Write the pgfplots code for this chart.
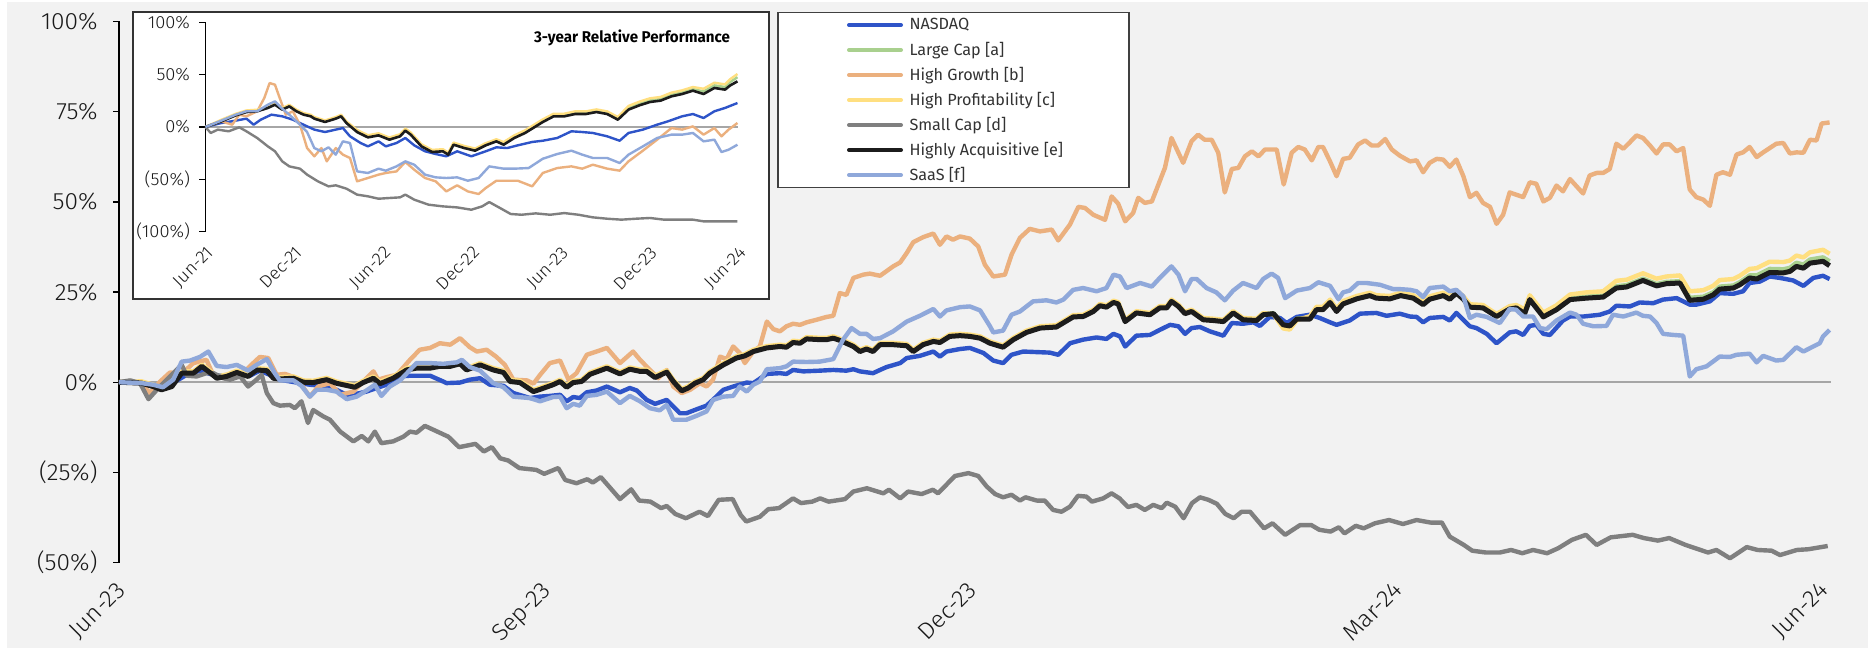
\documentclass[border=0pt]{standalone}
\usepackage{fontspec}
\setmainfont{Fira Sans}
\newfontfamily\lightfont{Fira Sans Light}[FakeStretch=1.04]
\newfontfamily\condfont{Fira Sans}[FakeStretch=0.97]
\usepackage{pgfplots}
\pgfplotsset{compat=1.18}
\usepackage{pgfplotstable}

\definecolor{bg}{HTML}{F2F2F2}
\definecolor{cNas}{HTML}{2E54C8}
\definecolor{cLarge}{HTML}{A9D08E}
\definecolor{cGrowth}{HTML}{EBB07E}
\definecolor{cProf}{HTML}{FFDF80}
\definecolor{cSmall}{HTML}{7F7F7F}
\definecolor{cAcq}{HTML}{1C1C1C}
\definecolor{cSaas}{HTML}{8FA8DA}
\definecolor{zline}{HTML}{A6A6A6}

% ---------------- main chart data (x = days since Jun-23, y = %) ----------------
\pgfplotstableread{
d acq large prof
0 0 0 0
4.8 -0.25 -0.05 0.25
7.3 -1.2 -1.0 -0.7
9.1 -2.1 -1.9 -1.6
11.3 -1.2 -1.0 -0.7
13.4 2.5 2.7 3.0
15.9 2.5 2.7 3.0
17.7 4.4 4.6 4.9
19.4 2.7 2.9 3.2
20.9 1.1 1.3 1.6
23.0 1.6 1.8 2.1
25.2 2.7 2.9 3.2
27.6 1.6 1.8 2.1
29.4 3.4 3.6 3.9
31.6 3.2 3.4 3.7
33.0 1.1 1.3 1.6
34.4 0.9 1.1 1.4
37.3 1.1 1.3 1.6
39.4 0.0 0.2 0.5
41.5 -0.1 0.1 0.4
44.4 0.7 0.9 1.2
46.5 -0.3 -0.1 0.2
50.4 -1.4 -1.2 -0.9
52.2 -0.1 0.1 0.4
54.4 1.1 1.3 1.6
55.8 -0.4 -0.2 0.1
58.6 1.1 1.3 1.6
61.5 3.4 3.6 3.9
63.6 3.9 4.1 4.4
66.5 3.9 4.1 4.4
68.6 4.4 4.6 4.9
70.8 4.4 4.6 4.9
72.9 5.1 5.3 5.6
74.3 3.4 3.6 3.9
77.2 4.8 5.0 5.3
80.0 3.4 3.6 3.9
82.2 2.7 2.9 3.2
83.6 0.2 0.4 0.7
85.7 -0.1 0.1 0.4
88.6 -2.6 -2.4 -2.1
90.0 -2.0 -1.8 -1.5
92.8 -0.7 -0.5 -0.2
94.3 0.2 0.4 0.7
95.7 -1.4 -1.2 -0.9
97.1 -0.1 0.1 0.4
98.9 0.2 0.4 0.7
100.7 2.2 2.4 2.7
104.3 3.9 4.1 4.4
107.1 2.3 2.5 2.8
109.2 3.6 3.8 4.1
111.4 3.0 3.2 3.5
112.8 3.0 3.2 3.5
114.6 1.3 1.5 1.8
117.1 2.8 3.0 3.3
118.5 0.2 0.4 0.7
120.3 -2.4 -2.2 -1.9
121.7 -1.6 -1.4 -1.1
123.1 -0.3 -0.1 0.2
124.9 0.7 0.9 1.2
126.3 2.5 2.7 3.0
129.2 4.8 5.0 5.3
132.0 6.7 6.9 7.2
133.8 7.3 7.5 7.8
135.6 8.5 8.7 9.0
138.5 9.5 9.7 10.0
141.3 9.9 10.1 10.4
142.7 9.7 9.9 10.2
144.1 11.0 11.2 11.5
145.6 10.8 11.0 11.3
147.0 12.0 12.2 12.5
149.8 11.8 12.0 12.3
151.3 11.8 12.0 12.3
152.7 12.2 12.4 12.7
154.1 11.6 11.8 12.1
157.0 9.9 10.1 10.4
158.4 8.5 8.7 9.0
159.8 9.2 9.4 9.7
161.2 8.5 8.7 9.0
162.7 10.4 10.6 10.9
165.5 10.4 10.6 10.9
168.4 10.1 10.3 10.6
169.8 8.5 8.7 9.0
171.9 10.4 10.6 10.9
174.1 11.3 11.5 11.8
175.5 11.0 11.2 11.5
177.6 12.7 12.9 13.2
179.8 12.9 13.1 13.4
181.9 12.7 12.9 13.2
184.1 12.2 12.4 12.7
186.2 10.8 11.0 11.3
189.0 9.7 9.9 10.2
191.2 11.8 12.0 12.3
194.0 13.8 14.0 14.3
196.9 15.0 15.2 15.5
200.4 15.3 15.5 15.8
204.0 18.1 18.3 18.6
206.1 18.2 18.4 18.7
208.3 19.6 19.8 20.1
209.7 21.2 21.4 21.7
211.1 20.8 21.0 21.3
212.6 22.1 22.3 22.6
213.6 21.7 21.9 22.2
215.1 16.8 17.0 17.3
217.5 19.2 19.4 19.7
220.4 18.7 18.9 19.2
222.5 20.6 20.8 21.1
224.0 20.6 20.8 21.1
225.0 22.4 22.6 22.9
226.5 21.0 21.2 21.5
227.9 19.0 19.2 19.5
229.3 19.6 19.8 20.1
231.8 17.3 17.5 17.8
233.9 17.1 17.3 17.6
236.1 16.8 17.0 17.3
238.2 19.2 19.4 19.7
240.3 17.3 17.5 17.8
243.2 17.1 17.3 17.6
244.6 18.7 18.9 19.2
246.8 19.0 19.1 18.8
248.9 15.9 15.9 14.9
250.3 15.6 15.6 14.6
251.8 17.5 17.6 17.2
254.6 17.5 17.8 18.3
256.0 20.1 20.4 20.9
257.4 20.1 20.4 20.9
258.9 22.1 22.4 22.9
260.3 19.6 19.9 20.4
261.7 21.7 22.0 22.5
264.6 23.1 23.4 23.9
267.4 24.0 24.3 24.8
268.8 23.3 23.6 24.1
271.7 23.1 23.4 23.9
274.0 24.0 24.3 24.8
276.7 23.3 23.6 24.1
278.8 21.5 21.8 22.3
280.2 23.0 23.3 23.8
283.1 24.0 24.3 24.8
284.5 23.0 23.3 23.8
285.9 24.7 25.0 25.5
287.4 23.0 23.3 23.8
288.8 20.8 21.1 21.6
291.6 20.6 20.9 21.4
294.5 18.2 18.5 18.9
297.3 20.3 20.6 21.1
298.7 20.6 20.9 21.4
300.5 19.0 19.4 20.2
301.6 22.9 23.3 24.1
304.5 18.1 18.5 19.3
307.3 20.1 20.5 21.3
310.2 22.9 23.3 24.3
313.7 23.3 23.7 24.9
317.3 23.6 24.0 25.2
320.1 26.1 26.6 28.1
322.3 26.4 26.9 28.4
325.8 28.2 28.7 30.2
328.7 26.7 27.2 28.7
330.8 27.3 27.8 29.3
333.7 27.5 28.0 29.6
335.8 22.7 23.4 25.2
338.7 23.0 23.7 25.5
340.8 24.2 24.9 26.7
342.2 25.8 26.5 28.3
345.1 26.1 26.8 28.6
346.5 27.0 27.7 29.5
348.6 28.9 29.6 31.4
350.1 28.6 29.6 31.6
352.9 30.4 31.4 33.4
355.8 30.3 31.3 33.3
357.2 30.7 31.7 33.7
358.6 32.1 33.1 35.1
360.1 31.6 32.6 34.6
361.5 33.0 34.0 36.0
364.3 33.5 34.6 36.7
365.7 32.3 33.5 35.6
}\tblAcq

\pgfplotstableread{
d v
0 0
4.8 -0.25
7.3 -1.2
9.4 -1.4
12.3 0.4
14.4 2.0
17.3 3.2
19.4 2.3
21.6 1.8
25.2 2.3
28.0 1.8
30.1 3.2
32.3 2.0
34.4 0.7
38.0 -0.1
40.8 -0.7
43.7 -1.0
46.5 -2.1
48.7 -3.5
50.8 -3.2
52.9 -2.6
55.1 -1.6
57.2 -0.7
60.1 1.6
62.2 1.8
66.5 1.8
69.3 0.2
70.0 -0.25
72.9 -0.1
75.0 0.7
77.2 1.1
79.3 -0.7
82.2 -1.0
84.3 -3.0
87.9 -4.4
90.0 -4.0
92.1 -3.8
94.3 -3.5
95.7 -5.3
97.1 -4.1
98.5 -4.4
100.0 -2.8
102.1 -2.3
104.3 -1.2
107.1 -2.8
109.2 -1.6
110.7 -2.3
112.8 -4.9
114.6 -6.0
117.1 -4.9
119.9 -8.6
121.3 -8.6
123.5 -7.5
125.6 -6.5
127.7 -4.0
129.2 -2.1
131.3 -1.2
134.2 -0.1
135.6 -0.25
138.5 2.3
141.3 2.5
142.7 2.3
144.1 3.4
146.3 3.0
149.8 3.2
152.7 3.4
155.5 3.2
157.0 3.6
158.4 3.0
161.2 2.5
162.7 3.4
164.1 4.2
167.0 5.3
168.4 6.7
171.2 7.3
174.1 8.5
175.5 7.1
176.9 8.5
179.8 9.2
181.9 9.5
184.8 8.1
186.9 6.0
189.0 5.3
190.8 7.6
193.3 8.5
199.0 8.2
200.8 7.6
203.3 10.8
206.1 11.8
209.0 12.4
211.1 12.0
212.6 13.4
214.0 12.7
215.1 9.9
217.5 12.9
220.4 13.1
222.5 14.5
224.7 15.9
226.5 15.5
227.9 13.4
229.3 15.0
231.1 15.3
233.2 14.1
236.1 12.9
237.9 16.4
240.3 16.2
242.5 16.6
243.9 15.6
246.0 18.1
248.2 17.8
249.6 16.4
251.8 18.1
254.6 18.7
256.7 17.8
258.9 16.6
260.3 15.9
263.1 17.1
265.3 19.0
268.8 19.2
271.0 18.4
273.8 19.0
276.0 18.2
277.4 18.1
278.8 16.6
280.2 17.8
283.1 18.1
284.5 17.1
285.9 19.2
288.8 15.5
290.2 15.0
292.4 13.4
294.5 10.8
297.3 13.8
298.7 14.1
300.2 13.1
301.6 15.6
303.0 15.9
304.5 13.4
305.9 13.1
308.7 17.1
310.2 18.2
313.0 18.2
316.6 18.7
318.7 19.6
320.1 21.2
323.0 21.0
325.1 22.1
328.0 21.9
330.1 22.9
333.0 23.3
335.8 21.5
337.2 21.5
340.1 22.4
342.2 24.7
345.1 24.5
347.2 25.2
348.6 27.5
350.8 27.9
352.9 29.3
355.1 28.9
357.9 28.2
360.1 26.7
362.2 28.9
364.3 29.5
365.7 28.6
}\tblNas

\pgfplotstableread{
d v
0 0
4.8 -0.25
6.6 -3.0
8.8 0.2
10.9 2.7
13.4 2.3
15.9 5.3
18.7 6.2
20.2 1.8
23.0 1.1
25.9 1.8
28.7 5.3
30.1 7.0
31.9 6.7
33.7 2.05
35.5 2.3
38.0 1.1
40.8 -4.0
42.6 -1.2
45.1 -0.25
47.3 -3.5
50.1 -2.6
52.2 0.2
54.4 3.0
55.4 0.7
57.2 1.4
59.4 2.05
62.2 6.2
64.3 9.0
66.5 9.5
68.6 10.8
70.8 10.4
72.9 12.2
75.0 9.7
76.5 8.5
78.6 9.0
80.7 7.0
82.5 4.8
84.3 0.7
87.2 0.5
88.6 -0.4
90.0 2.0
92.1 5.3
94.3 6.0
96.1 0.7
97.8 2.5
100.0 7.6
102.1 8.5
104.3 9.5
107.1 5.3
109.9 8.5
111.4 6.2
113.5 3.4
115.3 1.1
117.1 3.4
118.5 -1.2
120.3 -3.0
122.1 -2.1
124.2 -0.25
125.6 -1.2
127.0 0.7
128.5 7.1
129.9 6.4
131.3 9.9
132.7 8.1
133.8 5.3
135.6 8.5
137.0 9.9
138.5 16.8
139.9 14.7
141.3 14.1
142.7 15.5
144.1 16.2
145.6 15.9
147.0 16.6
149.1 17.3
151.3 18.1
152.7 18.4
154.1 24.7
155.5 24.2
157.0 28.9
159.1 29.8
160.5 30.1
162.7 29.5
165.5 32.1
167.0 33.2
168.4 35.8
169.8 38.8
171.9 40.2
174.1 41.2
175.5 38.1
176.9 40.4
178.3 39.5
179.8 40.4
181.9 39.8
183.7 37.6
185.1 32.6
186.9 29.3
189.4 29.8
190.8 35.3
192.6 40.0
194.7 42.5
196.9 41.8
199.4 42.3
200.8 39.3
203.3 43.7
205.1 48.6
206.5 48.3
208.3 46.4
210.8 45.0
212.2 51.5
213.6 49.5
215.1 44.6
216.8 46.9
217.9 51.1
219.3 49.7
220.8 50.1
223.6 59.4
225.0 67.7
227.5 60.8
229.3 66.8
230.7 68.6
232.1 67.2
233.6 67.2
235.0 63.6
236.4 52.6
237.9 59.1
239.3 59.4
240.7 62.6
242.2 64.0
243.6 62.6
245.0 64.5
247.5 64.5
249.0 54.8
250.7 63.6
252.1 65.2
253.5 64.5
255.0 61.5
256.4 65.2
257.4 65.2
258.9 61.2
260.3 57.1
261.7 61.9
263.1 62.2
264.9 65.9
266.4 67.0
267.8 65.6
269.2 65.6
270.7 67.4
272.1 64.5
273.8 62.8
276.0 61.2
277.4 61.5
278.8 58.2
280.2 60.8
281.7 61.9
283.1 61.7
284.5 59.7
285.9 61.7
287.4 57.1
288.8 51.3
290.2 52.5
291.6 49.7
293.1 48.6
294.5 43.9
295.9 46.4
297.3 52.6
300.2 51.3
301.6 55.4
303.0 55.0
304.5 50.1
305.9 51.1
307.3 54.5
308.7 52.9
310.2 56.3
313.0 52.3
314.4 57.3
315.9 58.0
317.3 58.0
318.7 59.1
320.1 66.1
321.6 64.7
323.0 66.5
324.4 68.4
325.8 67.7
327.3 65.6
328.7 63.4
330.1 65.9
331.5 65.9
333.0 64.0
334.4 64.9
335.8 53.4
337.2 51.3
338.7 50.6
340.1 48.9
341.5 57.5
342.9 58.2
344.4 57.5
345.8 63.1
347.2 63.7
348.6 65.2
350.1 62.4
351.5 63.7
352.9 64.9
354.3 66.1
355.8 66.3
357.2 63.4
358.6 63.7
360.1 63.6
361.5 67.2
362.9 67.0
364.0 71.7
365.7 72.0
}\tblGrowth

\pgfplotstableread{
d v
0 0
2.4 0.5
4.5 -0.25
6.3 -4.7
8.1 -2.1
10.2 0.7
13.4 4.8
14.5 1.8
16.6 1.6
18.7 2.5
20.2 2.5
22.3 1.1
23.7 0.7
25.9 1.6
27.6 -1.2
29.4 0.7
30.5 2.05
31.6 -3.0
33.0 -5.8
34.4 -6.5
36.5 -6.3
37.6 -7.2
39.0 -5.3
40.4 -11.3
41.5 -7.7
43.7 -9.5
45.1 -10.4
47.3 -13.7
50.1 -16.4
51.9 -14.9
53.3 -16.4
54.7 -13.7
56.1 -16.9
58.6 -16.4
60.8 -15.1
62.2 -13.7
63.6 -14.0
65.4 -12.1
70.4 -15.1
72.7 -18.0
76.2 -17.1
78.0 -19.2
79.7 -18.0
81.5 -21.1
83.2 -21.7
85.6 -23.8
89.2 -24.3
90.9 -25.4
93.9 -23.8
95.4 -27.1
97.8 -28.0
100.1 -26.9
101.3 -27.8
103.0 -26.3
107.1 -32.4
109.5 -29.7
111.2 -32.8
113.6 -33.1
115.9 -34.9
117.1 -34.3
118.9 -36.5
121.2 -37.7
124.1 -35.9
125.9 -37.1
128.2 -32.6
131.2 -32.4
132.9 -36.8
134.1 -38.6
137.0 -37.3
138.8 -35.2
141.1 -34.9
144.1 -32.2
145.8 -33.5
148.2 -33.1
149.9 -32.2
151.7 -33.1
155.2 -32.4
157.0 -30.3
159.9 -29.4
163.4 -30.8
164.6 -29.8
167.0 -32.2
168.7 -30.3
171.6 -31.0
174.0 -29.8
175.1 -30.8
178.7 -26.0
181.6 -25.2
183.7 -26.0
185.5 -28.9
187.3 -31.0
189.0 -31.9
190.8 -31.2
192.6 -32.8
193.8 -31.9
196.2 -32.8
197.9 -32.8
199.7 -35.4
201.5 -35.9
203.3 -34.5
205.0 -31.5
206.8 -31.7
208.0 -33.1
210.4 -32.2
212.2 -30.8
213.9 -32.2
215.7 -34.6
217.5 -34.0
219.3 -35.4
221.1 -34.0
222.9 -34.9
224.0 -33.4
225.8 -34.5
227.6 -37.7
229.4 -33.5
231.1 -31.9
232.9 -32.6
234.7 -33.7
236.5 -36.5
238.3 -37.7
240.0 -35.9
241.8 -35.9
244.8 -40.5
246.6 -39.1
249.3 -42.3
252.5 -39.6
254.9 -39.6
256.6 -40.9
259.0 -41.4
260.8 -40.2
262.0 -41.9
264.4 -39.8
266.1 -40.5
268.5 -39.1
271.5 -38.2
274.5 -39.3
277.4 -38.2
280.4 -38.9
282.8 -38.9
284.5 -42.8
287.5 -45.1
289.3 -46.7
292.2 -47.2
295.2 -47.2
297.6 -46.5
300.0 -47.4
302.3 -46.5
305.3 -47.4
307.7 -46.0
310.6 -43.7
313.6 -42.3
315.9 -45.1
318.9 -43.0
323.6 -42.3
326.0 -43.2
329.0 -43.9
331.4 -43.2
334.9 -45.1
339.7 -47.2
341.5 -46.5
344.4 -48.8
348.0 -45.7
350.3 -46.5
353.3 -46.7
355.1 -47.9
358.7 -46.5
361.1 -46.3
365.3 -45.4
}\tblSmall

\pgfplotstableread{
d v
0 0
4.8 -0.25
7.3 -0.7
9.4 -1.4
11.6 0.7
13.4 5.7
15.2 6.0
17.3 7.0
19.1 8.5
20.9 4.5
23.0 4.2
25.2 4.8
27.6 3.2
29.4 4.8
31.6 6.4
33.3 2.5
34.4 0.5
37.3 0.5
39.0 -1.0
40.8 -4.0
42.3 -2.1
44.4 -2.1
46.5 -2.6
48.7 -4.7
50.8 -4.0
52.9 -2.3
54.7 -0.7
56.1 -3.8
57.9 -1.2
60.1 0.5
63.6 5.3
66.5 5.3
69.3 5.1
72.2 5.5
73.3 6.2
75.0 4.2
77.2 3.2
80.0 -0.25
82.2 -1.4
84.3 -4.0
87.9 -4.4
90.0 -5.3
92.8 -4.1
94.3 -4.0
95.7 -7.2
97.1 -6.0
98.5 -6.5
100.0 -3.8
102.1 -3.5
104.3 -2.6
107.1 -5.8
109.2 -3.8
111.4 -5.3
113.5 -7.2
115.6 -7.8
117.1 -6.3
118.5 -10.4
121.3 -10.4
123.5 -9.3
125.6 -8.1
127.0 -4.9
129.2 -4.0
131.3 -3.8
132.7 -1.2
134.2 -2.6
135.6 -0.7
137.0 0.2
138.5 3.6
141.3 3.9
142.7 4.4
144.1 5.7
147.0 5.6
149.8 5.7
152.7 6.4
154.8 11.8
156.6 15.0
158.4 13.4
159.8 13.4
161.2 12.0
162.7 12.2
165.5 14.1
167.0 15.5
168.4 16.8
171.2 18.4
174.1 20.3
175.5 18.2
176.9 19.9
179.8 20.8
181.9 21.0
184.1 19.9
186.2 15.5
186.9 13.8
189.0 14.3
190.8 18.7
192.6 19.6
195.4 22.4
198.3 22.7
200.4 22.1
201.9 22.9
204.0 25.6
206.1 26.1
209.0 25.2
211.1 26.1
212.6 29.8
214.0 29.3
215.4 26.1
218.3 27.5
220.8 26.5
222.5 28.9
225.0 32.1
226.5 29.8
227.9 25.2
229.3 28.6
230.4 28.6
232.5 26.1
234.6 24.9
236.4 22.7
238.2 25.4
240.3 27.5
243.2 26.1
244.6 28.6
246.4 30.1
247.8 28.9
249.3 23.3
251.8 25.4
254.6 26.1
256.4 27.7
258.9 26.7
260.7 23.0
261.7 24.9
263.1 25.4
264.9 27.5
266.7 27.5
269.6 27.0
272.4 25.8
273.8 25.8
276.0 25.6
277.4 25.2
278.8 23.6
280.2 26.1
283.1 26.5
284.5 25.2
285.9 25.6
287.4 23.8
288.8 17.8
290.2 18.7
292.4 18.1
295.2 16.4
297.3 20.3
298.7 20.1
300.2 18.2
302.3 18.2
303.8 15.0
305.2 14.7
307.3 17.1
310.2 19.3
311.6 18.7
313.0 16.2
315.2 15.5
318.0 15.6
319.4 18.7
321.6 18.2
324.4 19.3
325.8 18.4
327.3 18.2
328.7 16.4
330.1 13.4
332.3 13.1
334.4 12.9
335.8 1.6
337.2 3.6
339.4 4.4
342.2 7.1
344.4 7.0
345.8 7.6
348.6 7.9
350.1 5.5
351.5 7.3
354.3 6.0
355.8 6.2
358.6 9.7
360.1 8.5
362.2 9.9
363.6 10.8
364.3 12.7
365.7 14.5
}\tblSaas

% ---------------- inset data (x = months since Jun-21, y = %) ----------------
\pgfplotstableread{
m acq large prof
0 0 0 0
1.08 5.4 5.9 6.9
2.05 11.1 11.6 12.6
2.77 14.3 14.8 15.8
3.50 15.0 15.5 16.5
4.22 18.2 18.7 19.7
4.70 21.3 21.8 22.8
5.19 16.6 17.1 18.1
5.67 19.7 20.2 21.2
6.15 15.0 15.5 16.5
6.63 11.8 12.3 13.3
7.12 10.2 10.7 11.7
7.36 8.0 8.5 9.5
8.08 4.8 5.3 6.3
8.81 8.0 8.5 9.5
9.17 10.2 10.7 11.7
9.53 3.8 4.3 5.3
10.25 -4.8 -4.1 -2.8
10.98 -9.9 -9.2 -7.9
11.70 -8.0 -7.3 -6.0
12.43 -12.1 -11.4 -10.1
13.15 -8.9 -8.2 -6.9
13.51 -3.5 -2.8 -1.5
13.87 -7.3 -6.6 -5.3
14.60 -18.5 -17.8 -16.5
15.32 -23.9 -23.2 -21.9
16.04 -23.2 -22.5 -21.2
16.41 -26.4 -25.7 -24.4
16.77 -16.9 -16.2 -14.9
17.49 -20.1 -19.4 -18.1
18.22 -22.6 -21.9 -20.6
18.94 -17.5 -16.8 -15.5
19.66 -13.7 -13.0 -11.7
20.15 -16.9 -15.9 -14.4
20.87 -10.5 -9.5 -8.0
21.60 -5.7 -4.7 -3.2
22.32 0.6 1.6 3.1
22.80 4.8 5.8 7.3
23.53 10.2 11.2 12.7
24.25 10.2 11.2 12.7
24.97 12.4 13.4 14.9
25.70 12.4 13.4 14.9
26.42 14.3 15.3 16.8
27.15 12.4 13.4 14.9
27.87 7.0 8.0 9.5
28.59 16.6 18.1 20.1
29.32 20.7 22.2 24.2
30.04 23.9 25.4 27.4
30.76 25.2 26.7 28.7
31.49 29.3 30.8 32.8
32.21 31.5 33.0 35.0
32.94 34.7 36.2 38.2
33.66 31.5 34.0 36.5
34.39 37.3 39.8 42.3
35.11 35.7 38.2 40.7
35.47 39.8 43.0 45.8
35.95 43.6 47.6 50.6
}\inAcq

\pgfplotstableread{
m v
0 0
1.08 3.8
2.05 6.1
2.77 8.0
3.26 2.2
3.74 7.0
4.46 11.8
5.19 10.2
5.91 7.0
6.63 2.2
7.36 -2.5
8.08 -4.8
8.81 -2.5
9.29 -1.0
9.77 -8.9
10.49 -15.3
10.98 -18.5
11.70 -13.7
12.19 -18.5
12.91 -15.3
13.51 -10.5
14.11 -17.5
14.84 -23.2
15.56 -25.8
16.28 -28.0
17.01 -23.2
17.97 -28.0
18.94 -23.2
19.66 -19.4
20.39 -20.1
21.11 -17.5
22.08 -14.3
22.80 -13.1
23.77 -10.5
24.73 -4.1
25.46 -4.8
26.18 -5.7
27.15 -8.9
27.99 -13.1
28.59 -5.7
29.56 -2.5
30.52 2.2
31.25 5.4
32.21 10.2
32.94 12.4
33.66 8.6
34.39 15.0
35.11 18.2
35.95 22.9
}\inNas

\pgfplotstableread{
m v
0 0
1.08 5.4
1.81 2.2
2.29 11.8
2.77 10.2
3.50 15.0
3.98 27.7
4.34 42.0
4.70 40.4
4.94 30.9
5.43 11.8
5.91 15.0
6.39 2.2
6.87 -20.1
7.36 -28.0
7.84 -20.1
8.20 -32.8
8.81 -20.1
9.29 -26.4
9.77 -29.6
10.25 -51.9
10.98 -48.7
11.70 -45.5
12.19 -43.9
12.91 -42.4
13.51 -33.4
14.11 -40.8
14.84 -48.7
15.56 -51.9
16.28 -61.5
17.01 -55.7
17.73 -61.5
18.46 -64.0
18.94 -58.3
19.66 -51.3
20.39 -51.3
21.11 -51.3
22.08 -56.7
22.80 -43.9
23.77 -39.2
24.73 -37.6
25.46 -39.8
26.18 -36.0
27.15 -39.8
27.99 -41.7
28.59 -32.8
29.56 -22.6
30.52 -12.1
31.49 -1.0
32.21 -2.5
32.94 0.6
33.66 -7.3
34.39 -1.0
34.87 -8.9
35.35 -2.5
35.95 3.8
}\inGrowth

\pgfplotstableread{
m v
0 0
0.36 -5.7
0.84 -2.5
1.57 -4.1
2.29 -0.3
2.77 -4.1
3.50 -10.5
4.22 -18.5
4.70 -23.2
5.19 -32.8
5.67 -37.6
6.39 -39.8
6.87 -45.5
7.60 -51.9
8.32 -56.7
8.81 -55.7
9.53 -58.9
10.25 -64.6
10.98 -66.2
11.70 -68.5
12.43 -67.8
13.15 -67.2
13.51 -64.6
14.11 -69.4
15.08 -74.2
16.04 -75.8
17.01 -76.8
17.97 -79.0
18.70 -75.8
19.18 -71.7
19.91 -77.4
20.63 -83.1
21.36 -83.8
22.32 -82.5
23.29 -83.8
24.25 -82.2
25.21 -83.8
26.18 -86.3
27.15 -87.6
28.11 -88.5
29.08 -87.6
30.04 -86.9
30.99 -88.5
31.97 -88.5
32.94 -88.5
33.66 -90.1
34.63 -90.1
35.95 -90.1
}\inSmall

\pgfplotstableread{
m v
0 0
1.08 6.1
2.05 11.8
2.77 15.0
3.50 15.0
4.22 21.3
4.70 24.5
5.19 17.5
5.67 11.8
6.39 2.2
6.87 -4.8
7.36 -20.1
7.84 -23.2
8.32 -19.4
8.81 -26.4
9.29 -13.7
9.77 -15.3
10.25 -42.4
10.98 -43.9
11.70 -39.8
12.19 -41.7
12.91 -37.6
13.51 -32.8
14.11 -36.0
14.84 -45.5
15.56 -48.1
16.28 -48.7
17.01 -48.1
17.73 -51.3
18.46 -48.7
19.18 -37.6
20.15 -39.8
20.87 -39.8
21.84 -39.2
22.80 -30.3
23.77 -25.8
24.73 -22.6
25.46 -26.4
26.18 -29.6
27.15 -29.6
27.99 -34.4
28.59 -26.4
29.56 -18.5
30.52 -10.5
31.49 -7.3
32.21 -7.3
32.94 -5.7
33.66 -13.7
34.39 -12.1
34.87 -23.9
35.35 -21.7
35.95 -16.9
}\inSaas

\begin{document}
\begin{tikzpicture}
\fill[white] (0pt,0pt) rectangle (934pt,-324pt);
\fill[bg] (3.5pt,-1pt) rectangle (934pt,-324pt);
\useasboundingbox (0pt,0pt) rectangle (934pt,-324pt);

% legend frame
\draw[fill=white, draw=black!75, line width=0.6pt] (389pt,-6.35pt) rectangle (564.5pt,-93.85pt);

% ---------------- main axis ----------------
\begin{axis}[
  at={(59.5pt,-281.3pt)}, anchor=south west,
  width=856pt, height=270.6pt, scale only axis,
  xmin=0, xmax=366, ymin=-50, ymax=100,
  enlargelimits=false, clip=false,
  axis lines*=left,
  x axis line style={draw=none},
  y axis line style={black, line width=0.7pt},
  tick align=outside, major tick length=3pt,
  xtick={0,91,182,273,364},
  xticklabels={Jun-23,Sep-23,Dec-23,Mar-24,Jun-24},
  ytick={-50,-25,0,25,50,75,100},
  yticklabels={(50\%),(25\%),0\%,25\%,50\%,75\%,100\%},
  xtick style={draw=none},
  ytick style={black, line width=0.7pt},
  ticklabel style={font=\lightfont\fontsize{11.8}{13.5}\selectfont, text=black!90},
  xticklabel style={xshift=-2pt, yshift=-5.5pt, rotate=45, anchor=north east, inner sep=0pt},
  yticklabel style={anchor=east, inner sep=0pt, xshift=-7.5pt},
  legend style={draw=none, fill=none,
    at={(axis description cs:0.42523,1.01645)}, anchor=north west,
    inner sep=0pt, outer sep=0pt, row sep=0pt,
    nodes={inner sep=0pt, minimum height=12.5pt, text=black!80,
      font=\fontsize{8.1}{9.7}\selectfont},
    cells={anchor=west}},
  legend image code/.code={\draw[#1, line cap=round, line width=2pt] (0pt,0pt) -- (26pt,0pt); \path (29pt,0pt);},
  every axis plot/.append style={line join=round},
]
\addplot[forget plot, zline, line width=1.2pt] coordinates {(0,0) (366,0)};
\addplot[cNas, line width=2.2pt] table[x=d, y=v] {\tblNas};
\addlegendentry{NASDAQ}
\addplot[cLarge, line width=2.2pt] table[x=d, y=large] {\tblAcq};
\addlegendentry{Large Cap [a]}
\addplot[cGrowth, line width=2.2pt] table[x=d, y=v] {\tblGrowth};
\addlegendentry{High Growth [b]}
\addplot[cProf, line width=2.2pt] table[x=d, y=prof] {\tblAcq};
\addlegendentry{High Profitability [c]}
\addplot[cSmall, line width=2.2pt] table[x=d, y=v] {\tblSmall};
\addlegendentry{Small Cap [d]}
\addplot[cAcq, line width=2.5pt] table[x=d, y=acq] {\tblAcq};
\addlegendentry{Highly Acquisitive [e]}
\addplot[cSaas, line width=2.2pt] table[x=d, y=v] {\tblSaas};
\addlegendentry{SaaS [f]}
\end{axis}

% ---------------- inset ----------------
\draw[fill=white, draw=black!80, line width=0.75pt] (66.5pt,-6pt) rectangle (384.5pt,-149.5pt);
\begin{axis}[
  at={(102.7pt,-115.85pt)}, anchor=south west,
  width=266.4pt, height=104.7pt, scale only axis,
  xmin=0, xmax=36, ymin=-100, ymax=100,
  enlargelimits=false, clip=false,
  axis lines*=left,
  x axis line style={draw=none},
  y axis line style={black, line width=0.6pt},
  tick align=outside, major tick length=3pt,
  xtick={0,6,12,18,24,30,36},
  xticklabels={Jun-21,Dec-21,Jun-22,Dec-22,Jun-23,Dec-23,Jun-24},
  ytick={-100,-50,0,50,100},
  yticklabels={(100\%),(50\%),0\%,50\%,100\%},
  xtick style={draw=none},
  ytick style={black, line width=0.6pt},
  ticklabel style={font=\lightfont\fontsize{8.8}{10}\selectfont, text=black!90},
  xticklabel style={xshift=0pt, yshift=-3.5pt, rotate=45, anchor=north east, inner sep=0pt},
  yticklabel style={anchor=east, inner sep=0pt, xshift=-4.5pt},
  every axis plot/.append style={line join=round},
]
\addplot[zline, line width=0.8pt] coordinates {(0,0) (36,0)};
\addplot[cNas, line width=1.2pt] table[x=m, y=v] {\inNas};
\addplot[cLarge, line width=1.2pt] table[x=m, y=large] {\inAcq};
\addplot[cGrowth, line width=1.2pt] table[x=m, y=v] {\inGrowth};
\addplot[cProf, line width=1.2pt] table[x=m, y=prof] {\inAcq};
\addplot[cSmall, line width=1.2pt] table[x=m, y=v] {\inSmall};
\addplot[cAcq, line width=1.3pt] table[x=m, y=acq] {\inAcq};
\addplot[cSaas, line width=1.2pt] table[x=m, y=v] {\inSaas};
\end{axis}
\node[anchor=east, inner sep=0pt, font=\condfont\bfseries\fontsize{7.8}{9}\selectfont] at (365.2pt,-19.15pt) {3-year Relative Performance};
\end{tikzpicture}
\end{document}
